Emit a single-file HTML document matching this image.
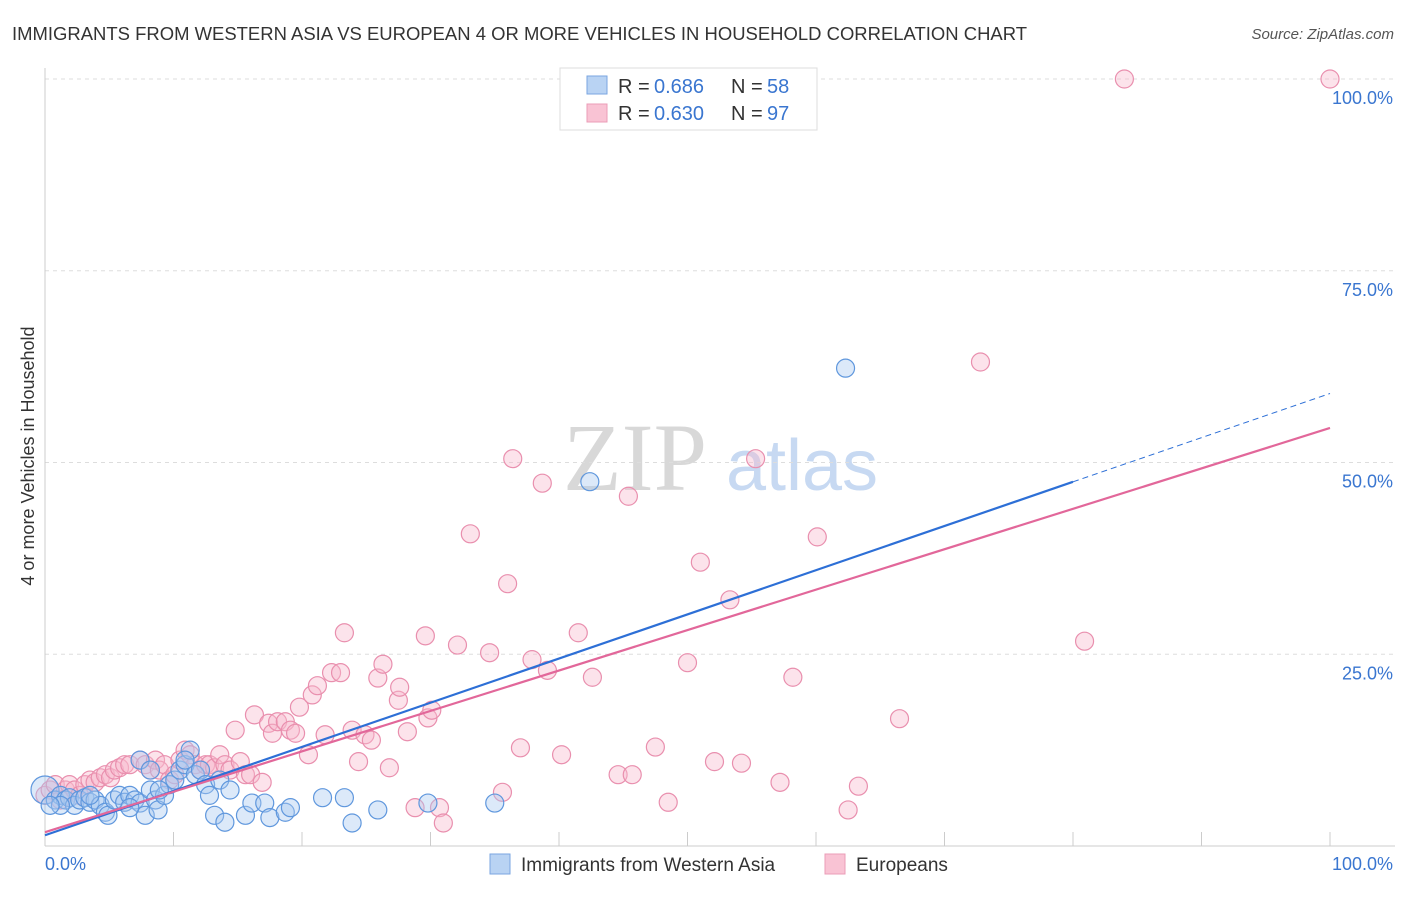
<!DOCTYPE html>
<html><head><meta charset="utf-8"><style>
body{margin:0;background:#fff;width:1406px;height:892px;overflow:hidden;font-family:"Liberation Sans",sans-serif;}
</style></head><body>
<svg width="1406" height="892" xmlns="http://www.w3.org/2000/svg">
<text x="12" y="40" font-size="18.5" fill="#333" textLength="1015" lengthAdjust="spacingAndGlyphs">IMMIGRANTS FROM WESTERN ASIA VS EUROPEAN 4 OR MORE VEHICLES IN HOUSEHOLD CORRELATION CHART</text>
<text x="1394" y="39" font-size="15" fill="#555" font-style="italic" text-anchor="end">Source: ZipAtlas.com</text>
<text x="34" y="456" font-size="18" fill="#333" text-anchor="middle" transform="rotate(-90 34 456)">4 or more Vehicles in Household</text>
<g>
<text x="635" y="490" font-size="96" fill="#d8d8d8" font-family="Liberation Serif,serif" text-anchor="middle">ZIP</text>
<text x="802" y="490" font-size="72" fill="#c7d9f2" text-anchor="middle">atlas</text>
</g>
<g id="grid"></g><g id="axes"></g><g id="lines"></g><g id="pts"></g>
<g>
<rect x="560" y="68" width="257" height="62" fill="#fff" stroke="#ddd"/>
<rect x="587" y="76" width="20" height="18" fill="#b9d3f3" stroke="#7aa6e0"/>
<rect x="587" y="104" width="20" height="18" fill="#f9c3d4" stroke="#eb9cb7"/>
<text x="618" y="93" font-size="20" fill="#333">R = </text><text x="654" y="93" font-size="20" fill="#3a76d0">0.686</text>
<text x="731" y="93" font-size="20" fill="#333">N = </text><text x="767" y="93" font-size="20" fill="#3a76d0">58</text>
<text x="618" y="120" font-size="20" fill="#333">R = </text><text x="654" y="120" font-size="20" fill="#3a76d0">0.630</text>
<text x="731" y="120" font-size="20" fill="#333">N = </text><text x="767" y="120" font-size="20" fill="#3a76d0">97</text>
</g>
<g>
<rect x="490" y="854" width="20" height="20" fill="#b9d3f3" stroke="#7aa6e0"/>
<text x="521" y="871" font-size="19" fill="#333">Immigrants from Western Asia</text>
<rect x="825" y="854" width="20" height="20" fill="#f9c3d4" stroke="#eb9cb7"/>
<text x="856" y="871" font-size="19" fill="#333">Europeans</text>
</g>
</svg>
<script>
const blueX=[0,0.8,1.2,1.6,1.9,2.3,2.7,3.1,3.5,3.9,4.3,4.7,4.9,5.4,5.8,6.2,6.6,7.0,7.4,7.8,8.2,8.6,8.8,9.3,9.7,10.1,10.5,10.9,11.3,11.7,12.1,12.5,12.8,13.2,13.6,14.0,14.4,15.6,16.1,17.1,17.5,18.7,19.1,21.6,23.3,23.9,25.9,29.8,35.0,42.4,62.3,7.4,10.9,8.2,1.2,3.5,0.4,6.6,8.9];
const blueY=[7.3,6.0,6.6,6.0,6.3,5.3,6.0,6.3,5.7,6.0,5.3,4.4,4.0,6.0,6.6,5.7,6.6,6.0,5.6,4.0,7.3,6.0,4.7,6.6,8.0,8.6,9.9,10.6,12.5,9.3,9.9,8.0,6.6,4.0,8.6,3.1,7.3,4.0,5.6,5.6,3.7,4.4,5.0,6.3,6.3,3.0,4.7,5.6,5.6,47.5,62.3,11.2,11.2,9.9,5.3,6.6,5.3,5.0,7.3];
const pinkX=[0,0.4,0.8,1.2,1.6,1.9,2.3,2.7,3.1,3.5,3.9,4.3,4.7,5.1,5.4,5.8,6.2,6.6,7.4,7.8,8.2,8.6,8.9,9.3,9.7,10.1,10.5,10.9,11.3,11.7,12.1,12.5,12.8,13.2,13.6,14.0,14.4,14.8,15.2,15.6,16.0,16.3,16.9,17.4,17.7,18.1,18.7,19.1,19.5,19.8,20.5,20.8,21.2,21.8,22.3,23.0,23.3,23.9,24.4,24.9,25.4,25.9,26.3,26.8,27.5,27.6,28.2,28.8,29.6,29.8,30.1,30.7,31.0,32.1,33.1,34.6,35.6,36.0,36.4,37.0,37.9,38.7,39.1,40.2,41.5,42.6,44.6,45.4,45.7,47.5,48.5,50.0,51.0,52.1,53.3,54.2,55.3,57.2,58.2,60.1,62.5,63.3,66.5,72.8,80.9,84.0,100];
const pinkY=[6.6,7.3,8.0,6.0,7.3,8.0,7.3,6.6,8.0,8.6,8.3,8.9,9.3,8.9,9.9,10.2,10.6,10.6,11.2,10.6,9.9,11.2,9.9,10.6,8.6,9.3,11.2,12.5,11.9,10.6,9.9,10.6,10.6,10.2,11.9,10.6,9.9,15.1,11.0,9.3,9.3,17.1,8.3,16.0,14.7,16.2,16.2,15.1,14.7,18.1,11.9,19.7,20.9,14.5,22.6,22.6,27.8,15.1,11.0,14.5,13.8,21.9,23.7,10.2,19.0,20.7,14.9,5.0,27.4,16.7,17.7,5.0,3.0,26.2,40.7,25.2,7.0,34.2,50.5,12.8,24.3,47.3,22.9,11.9,27.8,22.0,9.3,45.6,9.3,12.9,5.7,23.9,37.0,11.0,32.1,10.8,50.5,8.3,22.0,40.3,4.7,7.8,16.6,63.1,26.7,100,100];
const blueFit=[1.4,0.576]; const pinkFit=[1.8,0.527];
const yTicks=[25,50,75,100]; const yTickLabels=["25.0%","50.0%","75.0%","100.0%"];
const xTicks=[0,10,20,30,40,50,60,70,80,90,100];
const NS="http://www.w3.org/2000/svg";
const sx=v=>45+v*12.85, sy=v=>846-v*7.67;
function mk(t,a,p){const e=document.createElementNS(NS,t);for(const k in a)e.setAttribute(k,a[k]);p.appendChild(e);return e;}
const G=document.getElementById('grid'),A=document.getElementById('axes'),L=document.getElementById('lines'),P=document.getElementById('pts');
yTicks.forEach((v,i)=>{
 const g=mk('line',{x1:45,x2:1395,y1:sy(v),y2:sy(v),stroke:'#ddd','stroke-dasharray':'4,4'},G);
 
 
 const t=mk('text',{x:1393,y:sy(v)+25,'font-size':18,fill:'#3a76d0','text-anchor':'end'},A);t.textContent=yTickLabels[i];
 
 
});
const ax=mk('line',{x1:45,x2:45,y1:68,y2:846,stroke:'#ccc'},A);


const bx=mk('line',{x1:45,x2:1395,y1:846,y2:846,stroke:'#ccc'},A);


xTicks.forEach(v=>{const t=mk('line',{x1:sx(v),x2:sx(v),y1:846,y2:832,stroke:'#ccc'},A);
 
 });
const x0=mk('text',{x:45,y:870,'font-size':18,fill:'#3a76d0'},A);x0.textContent='0.0%';


const x1=mk('text',{x:1393,y:870,'font-size':18,fill:'#3a76d0','text-anchor':'end'},A);x1.textContent='100.0%';


function pts(X,Y,fill,stroke,name){X.forEach((x,i)=>{const c=mk('circle',{cx:sx(x),cy:sy(Y[i]),r:(x===0&&name==='blue-point')?14:9,fill:fill,'fill-opacity':0.4,stroke:stroke,'stroke-width':1.2},P);
 
 });}
pts(pinkX,pinkY,'#f7b8cc','#e98fae','pink-point');
pts(blueX,blueY,'#a8c8f0','#5f97dd','blue-point');
const bl=mk('line',{x1:sx(0),y1:sy(blueFit[0]),x2:sx(80),y2:sy(blueFit[0]+blueFit[1]*80),stroke:'#2d6fd6','stroke-width':2.2},L);


const bd=mk('line',{x1:sx(80),y1:sy(blueFit[0]+blueFit[1]*80),x2:sx(100),y2:sy(blueFit[0]+blueFit[1]*100),stroke:'#2d6fd6','stroke-width':1,'stroke-dasharray':'6,4'},L);


const pl=mk('line',{x1:sx(0),y1:sy(pinkFit[0]),x2:sx(100),y2:sy(pinkFit[0]+pinkFit[1]*100),stroke:'#e2679a','stroke-width':2.2},L);


const s=document.querySelector('svg');s.appendChild(L);
</script>
</body></html>
